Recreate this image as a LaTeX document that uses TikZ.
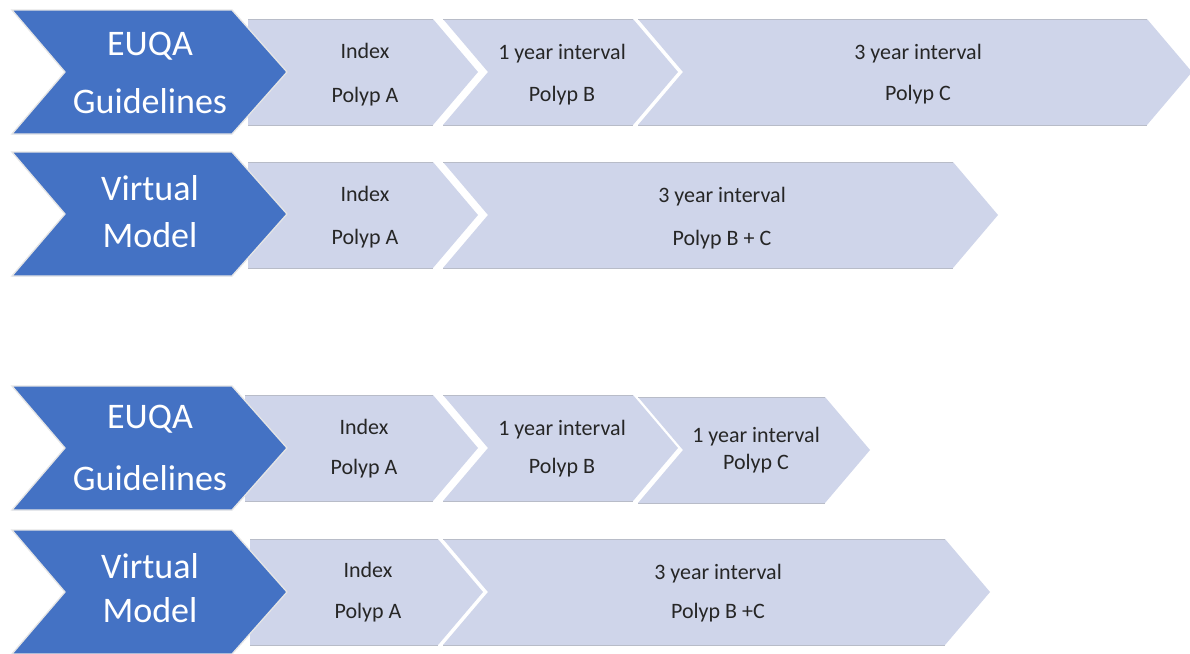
\documentclass[tikz,border=0pt]{standalone}
\usepackage{fontspec}
\setmainfont{Carlito}
\definecolor{bluech}{HTML}{4472C4}
\definecolor{lightch}{HTML}{CFD5EA}
\definecolor{edgegray}{HTML}{B8BCC8}
\tikzset{
  btext/.style={text=white, font=\fontsize{36}{40}\selectfont, inner sep=0pt, text height=0.72em, text depth=0pt, yshift=-7pt},
  ltext/.style={text=black!85, font=\fontsize{22}{26}\selectfont, inner sep=0pt, text height=0.72em, text depth=0pt, yshift=-4pt},
  bluestyle/.style={fill=bluech, draw=gray!20, line width=1.3pt, line join=miter},
}
\newcommand\lchev[4]{%
  \fill[lightch] (#1,#3) -- (#2,#3) -- ({#2+45},{#3+53}) -- (#2,{#3+106}) -- (#1,{#3+106}) -- ({#1+#4},{#3+53}) -- cycle;
  \draw[edgegray, line width=0.9pt] (#1,#3) -- (#2,#3) (#1,{#3+106}) -- (#2,{#3+106});
}
\newcommand\bchev[1]{%
  \path[bluestyle] (12,#1) -- (232,#1) -- (287,{#1+62}) -- (232,{#1+124}) -- (12,{#1+124}) -- (65,{#1+62}) -- cycle;
}
\begin{document}
\begin{tikzpicture}[x=1pt,y=-1pt]
\useasboundingbox (0,0) rectangle (1190,653);
\fill[white] (0,0) rectangle (1190,653);
\begin{scope}
\clip (0,0) rectangle (1190,653);
% Row 1
\lchev{248}{433}{19}{0}
\lchev{443}{633}{19}{45}
\lchev{638}{1147}{19}{45}
\bchev{10}
% Row 2
\lchev{248}{433}{162}{0}
\lchev{443}{953}{162}{45}
\bchev{152}
% Row 3
\lchev{245}{433}{395}{0}
\lchev{443}{633}{395}{45}
\lchev{638}{825}{397}{45}
\bchev{386}
% Row 4
\lchev{250}{438}{539}{0}
\lchev{443}{945}{539}{45}
\bchev{530}
\end{scope}
% texts row 1
\node[btext] (r1a) at (150,45) {EUQA};
\node[btext] (r1b) at (150,103) {Guidelines};
\node[ltext] (r1c) at (365,51) {Index};
\node[ltext] (r1d) at (365,95) {Polyp A};
\node[ltext] (r1e) at (562,52) {1 year interval};
\node[ltext] (r1f) at (562,94) {Polyp B};
\node[ltext] (r1g) at (918,52) {3 year interval};
\node[ltext] (r1h) at (918,93) {Polyp C};
% row 2
\node[btext] (r2a) at (150,190) {Virtual};
\node[btext] (r2b) at (150,237) {Model};
\node[ltext] (r2c) at (365,194) {Index};
\node[ltext] (r2d) at (365,237) {Polyp A};
\node[ltext] (r2e) at (722,195) {3 year interval};
\node[ltext] (r2f) at (722,238) {Polyp B + C};
% row 3
\node[btext] (r3a) at (150,418) {EUQA};
\node[btext] (r3b) at (150,480) {Guidelines};
\node[ltext] (r3c) at (364,427) {Index};
\node[ltext] (r3d) at (364,467) {Polyp A};
\node[ltext] (r3e) at (562,428) {1 year interval};
\node[ltext] (r3f) at (562,466) {Polyp B};
\node[ltext] (r3g) at (756,435) {1 year interval};
\node[ltext] (r3h) at (756,462) {Polyp C};
% row 4
\node[btext] (r4a) at (150,568) {Virtual};
\node[btext] (r4b) at (150,612) {Model};
\node[ltext] (r4c) at (368,570) {Index};
\node[ltext] (r4d) at (368,611) {Polyp A};
\node[ltext] (r4e) at (718,572) {3 year interval};
\node[ltext] (r4f) at (718,611) {Polyp B +C};
\end{tikzpicture}
\end{document}
